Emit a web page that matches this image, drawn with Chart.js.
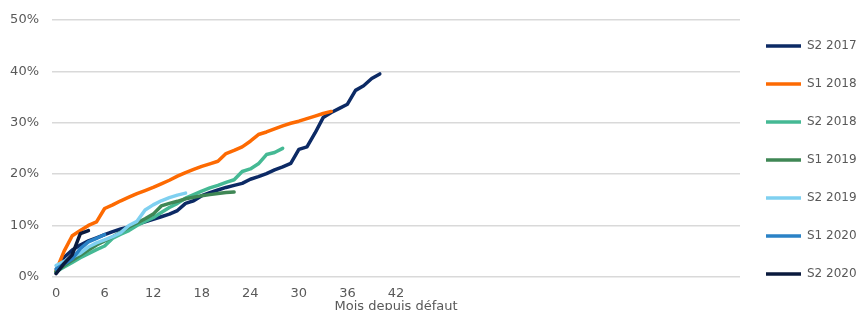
<!DOCTYPE html>
<html>
<head>
<meta charset="utf-8">
<script src="https://cdn.jsdelivr.net/npm/chart.js@4/dist/chart.umd.min.js"></script>
<style>
  html, body { margin: 0; padding: 0; background: #fff; overflow: hidden; }
  #wrap { width: 857px; height: 320px; }
</style>
</head>
<body>
<div id="wrap"><canvas id="myChart"></canvas></div>
<script>
// cumulative recovery rate (%) by months since default, one list per cohort
const seriesNames = ['S2 2017', 'S1 2018', 'S2 2018', 'S1 2019', 'S2 2019', 'S1 2020', 'S2 2020'];
const seriesColors = ['#0c2a65', '#fd6a02', '#45b994', '#3f8755', '#7fd0f0', '#2a82c6', '#0a1a3d'];

const s2_2017 = [0.8, 3.8, 5.2, 6.2, 7.0, 7.6, 8.2, 8.8, 9.3, 9.7, 10.2, 10.7, 11.2, 11.7, 12.2, 12.9,
  14.3, 14.8, 15.8, 16.4, 16.9, 17.4, 17.8, 18.2, 19.0, 19.5, 20.1, 20.8, 21.4, 22.1, 24.8, 25.3,
  28.0, 31.0, 32.0, 32.8, 33.6, 36.3, 37.2, 38.6, 39.5];
const s1_2018 = [1.2, 5.0, 8.0, 9.0, 10.0, 10.7, 13.3, 14.0, 14.8, 15.5, 16.2, 16.8, 17.4, 18.1, 18.8,
  19.6, 20.3, 20.9, 21.5, 22.0, 22.5, 24.0, 24.6, 25.3, 26.4, 27.7, 28.2, 28.8, 29.4, 29.9, 30.3,
  30.8, 31.3, 31.8, 32.2];
const s2_2018 = [1.0, 1.9, 2.8, 3.7, 4.5, 5.3, 6.0, 7.5, 8.3, 9.0, 10.0, 10.8, 11.5, 12.5, 13.5, 14.3,
  15.3, 16.0, 16.7, 17.3, 17.8, 18.4, 18.9, 20.5, 21.0, 22.0, 23.8, 24.2, 25.0];
const s1_2019 = [1.0, 2.2, 3.2, 4.2, 5.2, 6.2, 7.0, 7.8, 8.7, 9.7, 10.5, 11.3, 12.2, 13.8, 14.3, 14.7,
  15.2, 15.5, 15.8, 16.0, 16.2, 16.4, 16.5];
const s2_2019 = [2.2, 3.0, 3.8, 4.6, 5.8, 6.6, 7.2, 7.8, 8.6, 10.0, 10.8, 13.0, 14.0, 14.8, 15.4, 15.9, 16.3];
const s1_2020 = [1.5, 2.5, 3.5, 5.5, 6.8, 7.5, 8.2];
const s2_2020 = [0.6, 2.6, 4.3, 8.4, 9.0];

const allSeries = [s2_2017, s1_2018, s2_2018, s1_2019, s2_2019, s1_2020, s2_2020];
const xTicks = [0, 6, 12, 18, 24, 30, 36, 42];

const datasets = [];
for (let i = 0; i < allSeries.length; i++) {
  datasets.push({
    label: seriesNames[i],
    data: allSeries[i].map((v, m) => ({x: m, y: v})),
    borderColor: seriesColors[i],
    backgroundColor: seriesColors[i],
    borderWidth: 3.5,
    borderCapStyle: 'round',
    borderJoinStyle: 'round',
    pointRadius: 0,
    tension: 0,
    order: allSeries.length - 1 - i
  });
}

const ctx = document.getElementById('myChart');

new Chart(ctx, {
  type: 'line',
  data: { datasets: datasets },
  options: {
    responsive: true,
    maintainAspectRatio: false,
    animation: false,
    layout: { padding: 0 },
    plugins: {
      tooltip: { enabled: false },
      legend: {
        position: 'right',
        maxWidth: 117,
        labels: {
          usePointStyle: true,
          pointStyle: 'line',
          pointStyleWidth: 35,
          padding: 26,
          color: '#595959',
          font: { family: 'DejaVu Sans', size: 12 },
          sort: (a, b) => a.datasetIndex - b.datasetIndex
        }
      }
    },
    scales: {
      x: {
        type: 'linear',
        min: -0.5,
        max: 84.5,
        afterBuildTicks: (scale) => {
          scale.ticks = xTicks.map(v => ({value: v}));
        },
        grid: { display: false, drawTicks: false },
        border: { display: false },
        ticks: {
          padding: 9,
          color: '#595959',
          maxRotation: 0,
          font: { family: 'DejaVu Sans', size: 13 }
        },
        title: {
          display: true,
          text: 'Mois depuis défaut',
          color: '#595959',
          padding: { top: -12, bottom: 6 },
          font: { family: 'DejaVu Sans', size: 13 }
        }
      },
      y: {
        min: 0,
        max: 50,
        afterFit: (scale) => {
          scale.paddingTop = 20;
          scale.width = 52;
        },
        grid: { color: '#d9d9d9', lineWidth: 1.5, drawTicks: false },
        border: { display: false },
        ticks: {
          stepSize: 10,
          padding: 13,
          color: '#595959',
          font: { family: 'DejaVu Sans', size: 13 },
          callback: (v) => v + '%'
        }
      }
    }
  }
});
</script>
</body>
</html>
